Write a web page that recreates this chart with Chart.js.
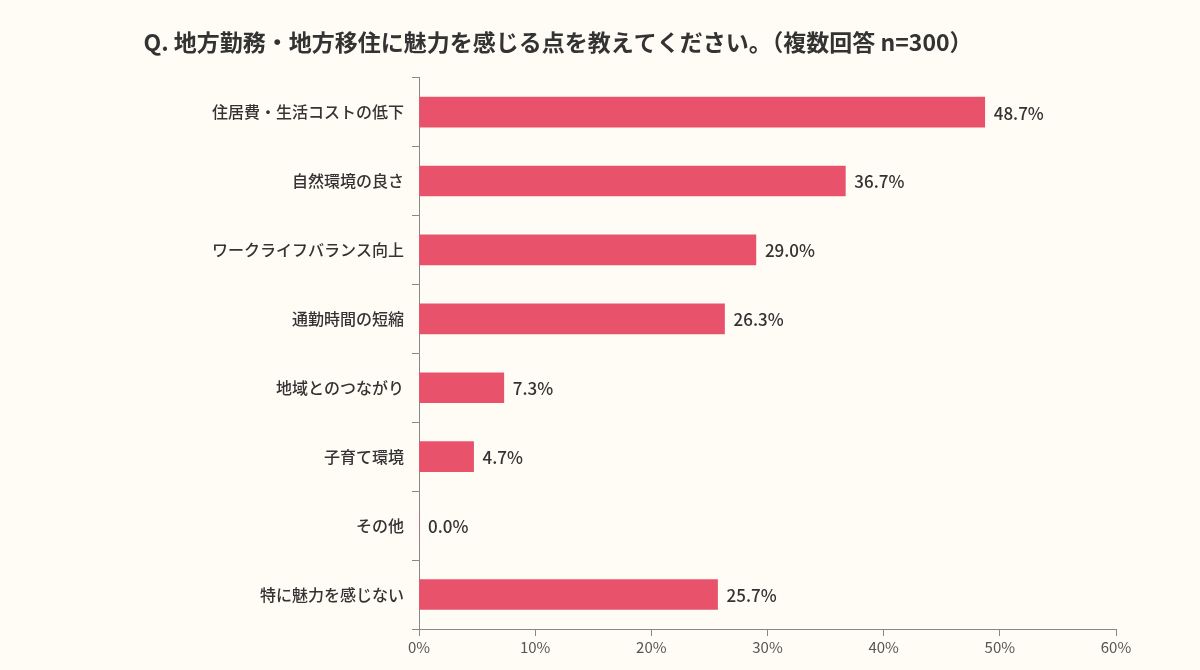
<!DOCTYPE html>
<html><head><meta charset="utf-8">
<script src="https://cdn.jsdelivr.net/npm/chart.js@4"></script>
<style>html,body{margin:0;background:#fffcf5}#w{width:1200px;height:670px}</style>
</head><body><div id="w"><canvas id="c"></canvas></div>
<script>
const categories = ["住居費・生活コストの低下","自然環境の良さ","ワークライフバランス向上","通勤時間の短縮","地域とのつながり","子育て環境","その他","特に魅力を感じない"];
const values = [48.7,36.7,29.0,26.3,7.3,4.7,0.0,25.7];
const xTicks = [0,10,20,30,40,50,60];
const titleText = "Q. 地方勤務・地方移住に魅力を感じる点を教えてください。（複数回答 n=300）";
const FONT = "'Noto Sans CJK JP','Noto Sans',sans-serif";
const labelPlugin = {
  id:'lbl',
  afterDatasetsDraw(chart){
    const ctx=chart.ctx, meta=chart.getDatasetMeta(0);
    ctx.save();ctx.font="500 17px "+FONT;ctx.fillStyle="#333";ctx.textBaseline="middle";ctx.textAlign="left";
    meta.data.forEach((b,i)=>ctx.fillText(values[i].toFixed(1)+"%",b.x+9,b.y+1));
    ctx.restore();
  }
};
new Chart(document.getElementById('c'),{
  type:'bar',
  data:{labels:categories,datasets:[{data:values,backgroundColor:'#e8536b',barThickness:30}]},
  options:{
    indexAxis:'y',responsive:true,maintainAspectRatio:false,animation:false,
    layout:{padding:{left:0,right:84,top:0,bottom:12}},
    plugins:{legend:{display:false},tooltip:{enabled:false},
      title:{display:true,text:titleText,color:'#333',font:{family:FONT,size:23,weight:'bold'},padding:{top:28,bottom:22}}},
    scales:{
      x:{min:0,max:60,afterBuildTicks(s){s.ticks=xTicks.map(v=>({value:v}));},
        ticks:{callback:v=>v+'%',color:'#555',font:{family:FONT,size:15},padding:2},
        grid:{drawOnChartArea:false,tickLength:7,color:'#888'},border:{color:'#888'}},
      y:{afterFit(s){s.width=419;},
        ticks:{color:'#333',font:{family:FONT,size:16,weight:'500'},padding:8},
        grid:{drawOnChartArea:false,offset:true,tickLength:7,color:'#888'},border:{color:'#888'}}
    }
  },
  plugins:[labelPlugin]
});
</script></body></html>
